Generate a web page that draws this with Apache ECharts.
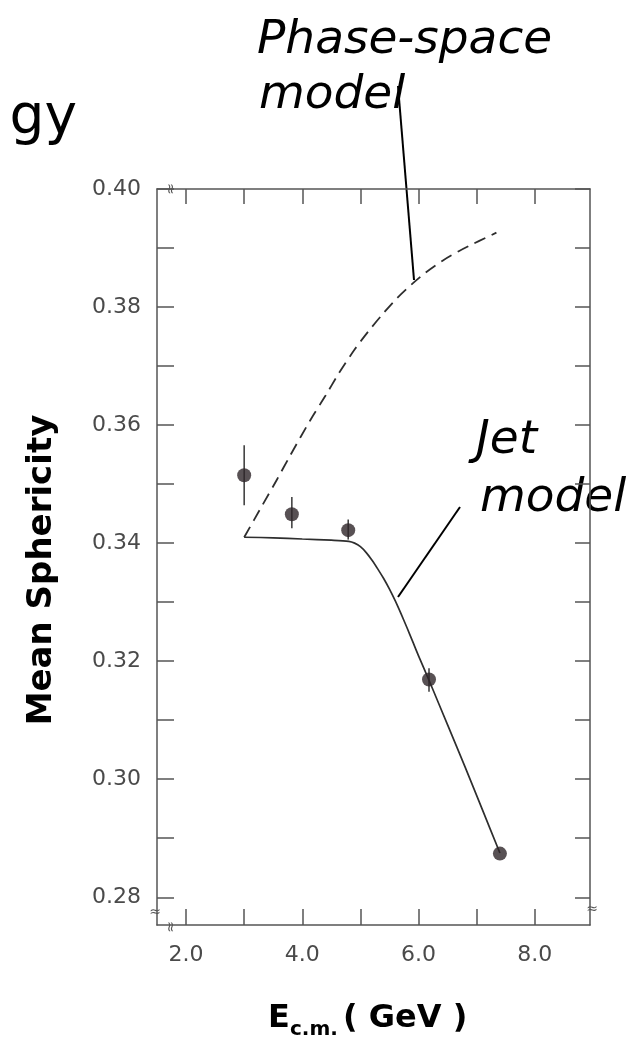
<!DOCTYPE html>
<html><head><meta charset="utf-8">
<script src="https://cdn.jsdelivr.net/npm/echarts@6/dist/echarts.min.js"></script>
<style>html,body{margin:0;padding:0;background:#fff;}#c{width:644px;height:1038px;}</style>
</head><body><div id="c"></div>
<script>
// ---- data ----
const xTickValues = [2, 3, 4, 5, 6, 7, 8];
const xLabelValues = [2, 4, 6, 8];
const yTickValues = [0.28, 0.29, 0.30, 0.31, 0.32, 0.33, 0.34, 0.35, 0.36, 0.37, 0.38, 0.39, 0.40];
const yLabelValues = [0.28, 0.30, 0.32, 0.34, 0.36, 0.38, 0.40];

const pointE = [3.0, 3.82, 4.79, 6.18, 7.40];
const pointS = [0.3515, 0.3449, 0.3422, 0.3169, 0.2874];
const errLow = [0.3464, 0.3425, 0.3406, 0.3148, null];
const errHigh = [0.3566, 0.3478, 0.3440, 0.3188, null];

const jetE = [3.0, 3.5, 4.0, 4.5, 4.8, 4.9, 5.0, 5.1, 5.2, 5.3, 5.4, 5.5, 5.6, 5.7, 5.8, 5.9, 6.0, 6.2, 6.5, 6.8, 7.1, 7.40];
const jetS = [0.3410, 0.3409, 0.3407, 0.3405, 0.3403, 0.3400, 0.3394, 0.3384, 0.3371, 0.3356, 0.3340, 0.3322, 0.3302, 0.3280, 0.3257, 0.3233, 0.3209, 0.3163, 0.3092, 0.3021, 0.2948, 0.2875];

const phaseE = [3.0, 3.3, 3.56, 3.8, 4.13, 4.4, 4.63, 4.9, 5.13, 5.4, 5.63, 5.9, 6.13, 6.42, 6.7, 6.94, 7.15, 7.34];
const phaseS = [0.3410, 0.3462, 0.3507, 0.3550, 0.3607, 0.3650, 0.3688, 0.3728, 0.3758, 0.3790, 0.3815, 0.3840, 0.3859, 0.3879, 0.3895, 0.3907, 0.3917, 0.3926];

// ---- chart ----
const chart = echarts.init(document.getElementById('c'), null, {renderer: 'canvas'});
const axisColor = '#555';
const labelFont = {fontFamily: '"DejaVu Sans"', fontSize: 22, color: '#4a4a4a'};

const xBase = {
  type: 'value', min: 1.5, max: 8.95,
  splitLine: {show: false},
  axisLine: {show: true, lineStyle: {color: axisColor, width: 1.5}}
};
const yBase = {
  type: 'value', min: 0.2753, max: 0.40,
  splitLine: {show: false},
  axisLine: {show: true, lineStyle: {color: axisColor, width: 1.5}}
};

const errData = [];
pointE.forEach((e, i) => { if (errLow[i] != null) errData.push([e, errLow[i], errHigh[i]]); });

chart.setOption({
  animation: false,
  backgroundColor: '#fff',
  grid: {left: 157, right: 54, top: 189, bottom: 113},
  xAxis: [
    Object.assign({}, xBase, {
      position: 'bottom',
      axisTick: {show: true, inside: true, length: 16, customValues: xTickValues, lineStyle: {color: axisColor, width: 1.5}},
      axisLabel: Object.assign({show: true, margin: 19, customValues: xLabelValues, formatter: v => v.toFixed(1)}, labelFont)
    }),
    Object.assign({}, xBase, {
      position: 'top',
      axisTick: {show: true, inside: true, length: 15, customValues: xTickValues, lineStyle: {color: axisColor, width: 1.5}},
      axisLabel: {show: false}
    })
  ],
  yAxis: [
    Object.assign({}, yBase, {
      position: 'left',
      axisTick: {show: true, inside: true, length: 17, customValues: yTickValues, lineStyle: {color: axisColor, width: 1.5}},
      axisLabel: Object.assign({show: true, margin: 16, customValues: yLabelValues, formatter: v => v.toFixed(2)}, labelFont)
    }),
    Object.assign({}, yBase, {
      position: 'right',
      axisTick: {show: true, inside: true, length: 15, customValues: yTickValues, lineStyle: {color: axisColor, width: 1.5}},
      axisLabel: {show: false}
    })
  ],
  series: [
    {
      name: 'Phase-space model', type: 'line', xAxisIndex: 0, yAxisIndex: 0,
      data: phaseE.map((e, i) => [e, phaseS[i]]),
      showSymbol: false, smooth: 0.3,
      lineStyle: {color: '#2e2e2e', width: 1.8, type: [12, 7]}
    },
    {
      name: 'Jet model', type: 'line', xAxisIndex: 0, yAxisIndex: 0,
      data: jetE.map((e, i) => [e, jetS[i]]),
      showSymbol: false, smooth: 0.3,
      lineStyle: {color: '#2e2e2e', width: 1.7}
    },
    {
      name: 'errors', type: 'custom', xAxisIndex: 0, yAxisIndex: 0,
      data: errData,
      encode: {x: 0, y: [1, 2]},
      renderItem: function (params, api) {
        const x = api.value(0);
        const p1 = api.coord([x, api.value(1)]);
        const p2 = api.coord([x, api.value(2)]);
        return {type: 'line', shape: {x1: p1[0], y1: p1[1], x2: p2[0], y2: p2[1]},
                style: {stroke: '#444', lineWidth: 1.6}};
      }
    },
    {
      name: 'data', type: 'scatter', xAxisIndex: 0, yAxisIndex: 0,
      data: pointE.map((e, i) => [e, pointS[i]]),
      symbol: 'circle', symbolSize: 14,
      itemStyle: {color: '#2e2629'}, z: 5
    }
  ],
  graphic: [
    {type: 'text', x: 77, y: 119, style: {text: 'gy', font: '55px "DejaVu Sans"', fill: '#000', align: 'right', verticalAlign: 'middle'}},
    {type: 'text', x: 257, y: 41, style: {text: 'Phase-space', font: 'italic 47px "DejaVu Sans"', fill: '#000', align: 'left', verticalAlign: 'middle'}},
    {type: 'text', x: 259, y: 96, style: {text: 'model', font: 'italic 47px "DejaVu Sans"', fill: '#000', align: 'left', verticalAlign: 'middle'}},
    {type: 'line', shape: {x1: 398, y1: 86, x2: 414, y2: 280}, style: {stroke: '#000', lineWidth: 2}},
    {type: 'text', x: 476, y: 441, style: {text: 'Jet', font: 'italic 47px "DejaVu Sans"', fill: '#000', align: 'left', verticalAlign: 'middle'}},
    {type: 'text', x: 480, y: 499, style: {text: 'model', font: 'italic 47px "DejaVu Sans"', fill: '#000', align: 'left', verticalAlign: 'middle'}},
    {type: 'line', shape: {x1: 460, y1: 507, x2: 398, y2: 597}, style: {stroke: '#000', lineWidth: 2}},
    {type: 'text', x: 42, y: 570, rotation: Math.PI / 2, style: {text: 'Mean Sphericity', font: 'bold 34px "DejaVu Sans"', fill: '#000', align: 'center', verticalAlign: 'middle'}},
    {type: 'text', x: 268, y: 1019, style: {text: 'E', font: 'bold 32px "DejaVu Sans"', fill: '#000', align: 'left', verticalAlign: 'middle'}},
    {type: 'text', x: 290, y: 1030, style: {text: 'c.m.', font: 'bold 20px "DejaVu Sans"', fill: '#000', align: 'left', verticalAlign: 'middle'}},
    {type: 'text', x: 343, y: 1019, style: {text: '( GeV )', font: 'bold 32px "DejaVu Sans"', fill: '#000', align: 'left', verticalAlign: 'middle'}},
    {type: 'text', x: 171, y: 189, rotation: Math.PI / 2, style: {text: '≈', font: '14px "DejaVu Sans"', fill: '#555', align: 'center', verticalAlign: 'middle'}},
    {type: 'text', x: 155, y: 912, style: {text: '≈', font: '14px "DejaVu Sans"', fill: '#555', align: 'center', verticalAlign: 'middle'}},
    {type: 'text', x: 171, y: 927, rotation: Math.PI / 2, style: {text: '≈', font: '14px "DejaVu Sans"', fill: '#555', align: 'center', verticalAlign: 'middle'}},
    {type: 'text', x: 592, y: 909, style: {text: '≈', font: '14px "DejaVu Sans"', fill: '#555', align: 'center', verticalAlign: 'middle'}}
  ]
});
</script>
</body></html>
